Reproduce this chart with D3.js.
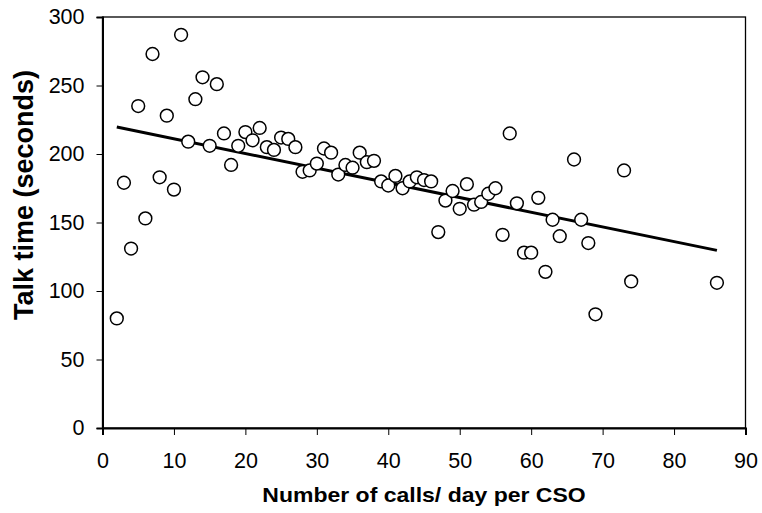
<!DOCTYPE html>
<html><head><meta charset="utf-8">
<script src="https://cdn.jsdelivr.net/npm/d3@7"></script>
<style>body{margin:0;background:#fff}svg{display:block}</style>
</head><body>
<svg id="c" width="762" height="513"></svg>
<script>
const callsPerDay = [2,3,4,5,6,7,8,9,10,11,12,13,14,15,16,17,18,19,20,21,22,23,24,25,26,27,28,29,30,31,32,33,34,35,36,37,38,39,40,41,42,43,44,45,46,47,48,49,50,51,52,53,54,55,56,57,58,59,60,61,62,63,64,66,67,68,69,73,74,86];
const talkTime = [80,179,131,235,153,273,183,228,174,287,209,240,256,206,251,215,192,206,216,210,219,205,203,212,211,205,187,188,193,204,201,185,192,190,201,194,195,180,177,184,175,180,183,181,180,143,166,173,160,178,163,165,171,175,141,215,164,128,128,168,114,152,140,196,152,135,83,188,107,106];
const xTicks = [0,10,20,30,40,50,60,70,80,90];
const yTicks = [0,50,100,150,200,250,300];
const xTitle = "Number of calls/ day per CSO";
const yTitle = "Talk time (seconds)";

const svg = d3.select("#c");
const L = 102.5, R = 745.5, T = 17, B = 428;
const x = d3.scaleLinear().domain([0,90]).range([L,R]);
const y = d3.scaleLinear().domain([0,300]).range([B,T]);
const font = "'Liberation Sans', Arial, sans-serif";

// frame
svg.append("rect").attr("x",L).attr("y",T).attr("width",R-L).attr("height",B-T)
  .attr("fill","none").attr("stroke","#000").attr("stroke-width",1.3);

// axes
const xa = svg.append("g").attr("transform",`translate(0,${B})`)
  .call(d3.axisBottom(x).tickValues(xTicks).tickSize(7).tickPadding(18));
const ya = svg.append("g").attr("transform",`translate(${L},0)`)
  .call(d3.axisLeft(y).tickValues(yTicks).tickSize(6).tickPadding(12));
[xa,ya].forEach(g=>{
  g.select(".domain").attr("stroke","#000").attr("stroke-width",2);
  g.selectAll(".tick line").attr("stroke","#000").attr("stroke-width",1);
  g.selectAll(".tick text").attr("font-family",font).attr("font-size",21.5).attr("fill","#000");
});
xa.selectAll(".tick text").attr("dy","0.72em");

// regression (least squares)
const n = callsPerDay.length;
const mx = d3.mean(callsPerDay), my = d3.mean(talkTime);
let sxy=0,sxx=0;
for(let i=0;i<n;i++){sxy+=(callsPerDay[i]-mx)*(talkTime[i]-my);sxx+=(callsPerDay[i]-mx)**2;}
const slope = sxy/sxx, icpt = my - slope*mx;
const x0 = d3.min(callsPerDay), x1 = d3.max(callsPerDay);
svg.append("line").attr("x1",x(x0)).attr("y1",y(icpt+slope*x0))
  .attr("x2",x(x1)).attr("y2",y(icpt+slope*x1))
  .attr("stroke","#000").attr("stroke-width",3);

// points
svg.append("g").selectAll("circle").data(callsPerDay).join("circle")
  .attr("cx",(d)=>x(d)).attr("cy",(d,i)=>y(talkTime[i])).attr("r",6.4)
  .attr("fill","#fff").attr("stroke","#000").attr("stroke-width",1.5);

// titles
svg.append("text").attr("transform",`translate(${(L+R)/2},501.5) scale(1.15,1)`).attr("text-anchor","middle")
  .attr("font-family",font).attr("font-weight","bold").attr("font-size",20).text(xTitle);
svg.append("text").attr("transform",`translate(33,195) rotate(-90)`).attr("text-anchor","middle")
  .attr("font-family",font).attr("font-weight","bold").attr("font-size",27).text(yTitle);
</script>
</body></html>
